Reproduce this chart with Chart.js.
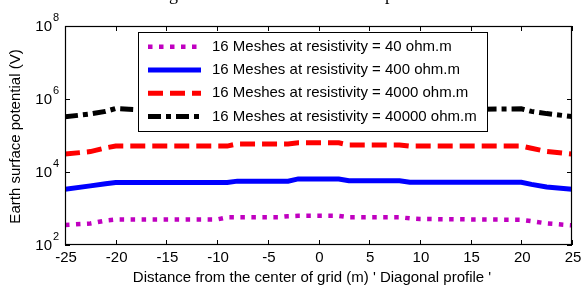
<!DOCTYPE html>
<html>
<head>
<meta charset="utf-8">
<script src="https://cdn.jsdelivr.net/npm/chart.js@4/dist/chart.umd.min.js"></script>
<style>
  html, body { margin: 0; padding: 0; background: #ffffff; }
  canvas { display: block; }
</style>
</head>
<body>
<canvas id="c" width="582" height="286"></canvas>
<script>
// ---- data ----
const distance = [-25, -22.5, -21, -20, -18, -10, -9, -8, -4, -3, -2, 2, 3, 4, 8, 9, 10, 20, 21, 22.5, 25];
const rho40    = [355, 389, 468, 500, 500, 500, 575, 575, 575, 615, 630, 630, 575, 575, 575, 537, 515, 490, 450, 390, 345];
const rho400   = [3390, 4170, 4790, 5130, 5130, 5130, 5130, 5620, 5620, 5620, 6460, 6460, 5750, 5750, 5750, 5250, 5250, 5250, 4570, 3890, 3390];
const rho4000  = [30900, 36300, 45700, 51300, 51300, 51300, 51300, 58900, 58900, 58900, 63100, 63100, 55000, 55000, 55000, 51300, 51300, 51300, 44700, 36300, 30900];
const rho40000 = [324000, 389000, 457000, 550000, 513000, 513000, 513000, 562000, 562000, 562000, 646000, 646000, 575000, 575000, 575000, 525000, 513000, 537000, 457000, 398000, 331000];
const seriesLabels = [
  '16 Meshes at resistivity = 40 ohm.m',
  '16 Meshes at resistivity = 400 ohm.m',
  '16 Meshes at resistivity = 4000 ohm.m',
  '16 Meshes at resistivity = 40000 ohm.m'
];
const xTickValues = [-25, -20, -15, -10, -5, 0, 5, 10, 15, 20, 25];
const yTickExponents = [2, 4, 6, 8];
const xAxisTitle = "Distance from the center of grid (m) ' Diagonal profile '";
const yAxisTitle = 'Earth surface potential (V)';

const FONT = '"Liberation Sans", Arial, sans-serif';
const pts = arr => distance.map((d, i) => ({ x: d, y: arr[i] }));

const styles = [
  { color: '#c000c0', width: 4.5, dash: [4.5, 6.5] },
  { color: '#0000ff', width: 5, dash: [] },
  { color: '#ff0000', width: 5, dash: [15, 7] },
  { color: '#000000', width: 5, dash: [13, 5, 5, 5] }
];
const seriesValues = [rho40, rho400, rho4000, rho40000];

const datasets = seriesValues.map((vals, i) => ({
  label: seriesLabels[i],
  data: pts(vals),
  borderColor: styles[i].color,
  backgroundColor: styles[i].color,
  borderWidth: styles[i].width,
  borderDash: styles[i].dash,
  borderCapStyle: 'butt',
  borderJoinStyle: 'miter',
  pointRadius: 0,
  tension: 0,
  fill: false
}));

const decor = {
  id: 'decor',
  afterDatasetsDraw(chart) {
    const { ctx, chartArea: a, scales } = chart;
    const xs = scales.x, ys = scales.y;
    ctx.save();
    // frame
    ctx.strokeStyle = '#000';
    ctx.lineWidth = 1.2;
    ctx.setLineDash([]);
    ctx.strokeRect(a.left + 0.5, a.top + 0.5, a.right - a.left - 1, a.bottom - a.top - 1);
    // inward ticks
    const tl = 5;
    ctx.lineWidth = 1;
    ctx.beginPath();
    xs.ticks.forEach(t => {
      const px = Math.round(xs.getPixelForValue(t.value)) + 0.5;
      ctx.moveTo(px, a.bottom); ctx.lineTo(px, a.bottom - tl);
      ctx.moveTo(px, a.top); ctx.lineTo(px, a.top + tl);
    });
    ys.ticks.forEach(t => {
      const py = Math.round(ys.getPixelForValue(t.value)) + 0.5;
      ctx.moveTo(a.left, py); ctx.lineTo(a.left + tl, py);
      ctx.moveTo(a.right, py); ctx.lineTo(a.right - tl, py);
    });
    ctx.stroke();
    // x tick labels
    ctx.fillStyle = '#000';
    ctx.font = '15px ' + FONT;
    ctx.textAlign = 'center';
    ctx.textBaseline = 'middle';
    xs.ticks.forEach(t => {
      ctx.fillText(String(t.value), xs.getPixelForValue(t.value) + 1, a.bottom + 13);
    });
    // y tick labels 10^n
    ys.ticks.forEach((t, i) => {
      const py = ys.getPixelForValue(t.value);
      ctx.font = '15px ' + FONT;
      ctx.textAlign = 'right';
      ctx.textBaseline = 'middle';
      ctx.fillText('10', a.left - 13, py + 1);
      ctx.font = '11px ' + FONT;
      ctx.textAlign = 'left';
      ctx.fillText(String(yTickExponents[i]), a.left - 12, py - 8);
    });
    // axis titles
    ctx.font = '15px ' + FONT;
    ctx.textAlign = 'center';
    ctx.textBaseline = 'middle';
    ctx.fillText(xAxisTitle, 312, 278, 362);
    ctx.save();
    ctx.translate(16, (a.top + a.bottom) / 2 + 1);
    ctx.rotate(-Math.PI / 2);
    ctx.fillText(yAxisTitle, 0, 0);
    ctx.restore();
    // title cut off at the top edge: only descenders of 'g' and 'p' show
    ctx.font = '18px "Liberation Serif", "Times New Roman", serif';
    ctx.textAlign = 'left';
    ctx.textBaseline = 'alphabetic';
    ctx.fillText('g', 169, 0);
    ctx.fillText('p', 385, 0);
    // legend
    const L = { x: 138, y: 32, w: 349, h: 99 };
    ctx.fillStyle = '#fff';
    ctx.fillRect(L.x, L.y, L.w, L.h);
    ctx.strokeStyle = '#000';
    ctx.lineWidth = 1;
    ctx.strokeRect(L.x + 0.5, L.y + 0.5, L.w, L.h);
    chart.data.datasets.forEach((ds, i) => {
      const yy = 46.7 + i * 23.3;
      ctx.strokeStyle = ds.borderColor;
      ctx.lineWidth = ds.borderWidth;
      ctx.lineCap = 'butt';
      ctx.setLineDash(ds.borderDash);
      ctx.beginPath();
      ctx.moveTo(148, yy);
      ctx.lineTo(201, yy);
      ctx.stroke();
      ctx.setLineDash([]);
      ctx.fillStyle = '#000';
      ctx.font = '15px ' + FONT;
      ctx.textAlign = 'left';
      ctx.textBaseline = 'middle';
      ctx.fillText(ds.label, 212, yy);
    });
    ctx.restore();
  }
};

new Chart(document.getElementById('c'), {
  type: 'line',
  data: { datasets },
  options: {
    responsive: false,
    devicePixelRatio: 1,
    animation: false,
    layout: { padding: { left: 65, right: 10, top: 26, bottom: 41 } },
    plugins: { legend: { display: false }, tooltip: { enabled: false }, title: { display: false } },
    scales: {
      x: {
        type: 'linear', min: -25, max: 25, display: false,
        afterBuildTicks: s => { s.ticks = xTickValues.map(v => ({ value: v })); }
      },
      y: {
        type: 'logarithmic', min: 100, max: 1e8, display: false,
        afterBuildTicks: s => { s.ticks = yTickExponents.map(e => ({ value: Math.pow(10, e) })); }
      }
    }
  },
  plugins: [decor]
});
</script>
</body>
</html>
